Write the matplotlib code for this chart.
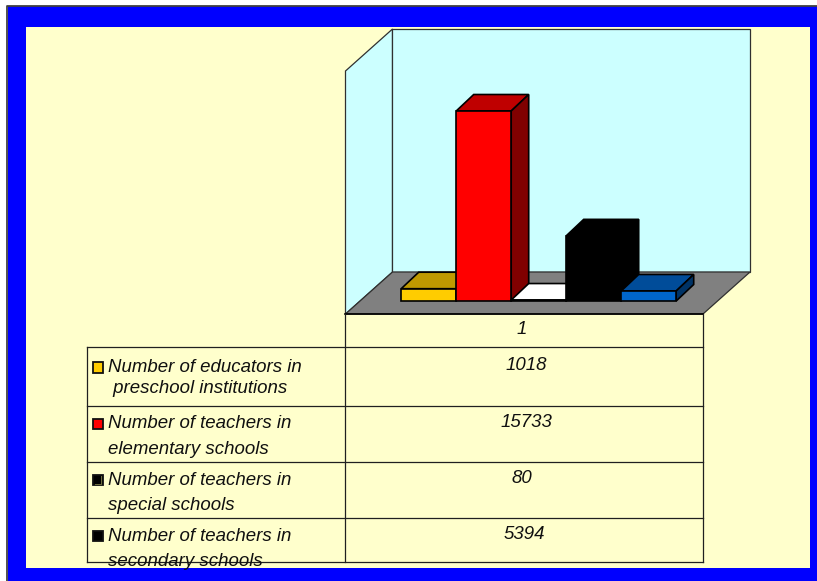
import matplotlib
matplotlib.use("Agg")
import matplotlib.pyplot as plt
from matplotlib.patches import Rectangle, Polygon

plt.rcParams['font.family'] = ['Liberation Sans', 'DejaVu Sans']

# the four series named in the table, plus the fifth bar which has no row
legend_labels = [
    ["Number of educators in", " preschool institutions"],
    ["Number of teachers in", "elementary schools"],
    ["Number of teachers in", "special schools"],
    ["Number of teachers in", "secondary schools"],
]
table_values = ["1018", "15733", "80", "5394"]
bar_values = [1018, 15733, 80, 5394, 830]
bar_front = ['#FFCC00', '#FF0000', '#FFFFFF', '#000000', '#0066CC']
bar_top = ['#BF9900', '#BF0000', '#FFFFFF', '#000000', '#004C99']
bar_side = ['#806600', '#800000', '#808080', '#000000', '#003366']
key_colors = ['#FFCC00', '#FF0000', '#000000', '#000000']

W, H = 817, 581
fig = plt.figure(figsize=(W / 100, H / 100), dpi=100, facecolor='white')

# background layer in pixel coordinates
bg = fig.add_axes([0, 0, 1, 1])
bg.set_xlim(0, W)
bg.set_ylim(H, 0)
bg.axis('off')

bg.add_patch(Rectangle((8, 6), W - 8, H - 6, fc='#0000FF', ec='none'))
bg.plot([7.5, 7.5, W], [H, 5.5, 5.5], color='#404040', lw=1.3)
bg.add_patch(Rectangle((26, 27), 784, 540.5, fc='#FFFFCC', ec='none'))

# walls and floor
edge = dict(ec='#303030', lw=0.9)
bg.add_patch(Polygon([(345.5, 71), (392.5, 29), (392.5, 272), (345.5, 314)], fc='#CCFFFF', **edge))
bg.add_patch(Polygon([(392.5, 29), (750, 29), (750, 272), (392.5, 272)], fc='#CCFFFF', **edge))
bg.add_patch(Polygon([(392.5, 272), (750, 272), (703, 314), (345.5, 314)], fc='#808080', **edge))

# table grid
line = dict(color='#202020', lw=0.9)
for y in [347, 405.5, 462, 518, 562]:
    bg.plot([87.5, 703], [y, y], **line)
bg.plot([345.5, 703], [314, 314], color='#000000', lw=1.2)
bg.plot([87.5, 87.5], [347, 562], **line)
bg.plot([345.5, 345.5], [314, 562], **line)
bg.plot([703, 703], [314, 562], **line)

# table text
txt = dict(fontsize=13.4, style='italic', color='#101010', va='center')
bg.text(522, 329.5, "1", ha='center', **txt)
value_x = [526, 526, 522, 524]
value_y = [365.5, 422.5, 478.5, 534.5]
for s, x, y in zip(table_values, value_x, value_y):
    bg.text(x, y, s, ha='center', **txt)

first_y = [367.5, 423.5, 480.5, 536.5]
second_y = [388.5, 449.5, 505.5, 561.5]
key_y = [362, 418.5, 474.5, 530.5]
for i, lines in enumerate(legend_labels):
    bg.text(108, first_y[i], lines[0], ha='left', **txt)
    bg.text(108, second_y[i], lines[1], ha='left', **txt)
    bg.add_patch(Rectangle((93, key_y[i]), 10, 10.5, fc=key_colors[i], ec='#101010', lw=1.3))
# the special schools key has a faint inner corner
bg.plot([101, 101, 95], [475.5, 483.5, 483.5], color='#707040', lw=0.7)

# bars: front-plane axes, value 0 sits on y=301 px
px_per_unit = 190 / 15733
x_left, x_right = 345.5, 703
y_low_px, y_high_px = 314, 29
bar_w_px = 55
first_center = 428.7

ax = fig.add_axes([x_left / W, 1 - y_low_px / H, (x_right - x_left) / W, (y_low_px - y_high_px) / H])
ax.patch.set_alpha(0)
ax.axis('off')
ax.set_xlim((x_left - first_center) / bar_w_px, (x_right - first_center) / bar_w_px)
ax.set_ylim((301 - y_low_px) / px_per_unit, (301 - y_high_px) / px_per_unit)

depth_x = 17.5 / bar_w_px
depth_y = 16.5 / px_per_unit

for i, v in enumerate(bar_values):
    x0, x1 = i - 0.5, i + 0.5
    z = 3 + i
    ax.bar(i, v, width=1.0, color=bar_front[i], edgecolor='#000000', linewidth=1.2, zorder=z + 0.5)
    ax.fill([x0, x1, x1 + depth_x, x0 + depth_x], [v, v, v + depth_y, v + depth_y],
            fc=bar_top[i], ec='#000000', lw=1.2, zorder=z + 0.2)
    ax.fill([x1, x1 + depth_x, x1 + depth_x, x1], [0, depth_y, v + depth_y, v],
            fc=bar_side[i], ec='#000000', lw=1.2, zorder=z + 0.2)

fig.savefig("out.png", dpi=100)
